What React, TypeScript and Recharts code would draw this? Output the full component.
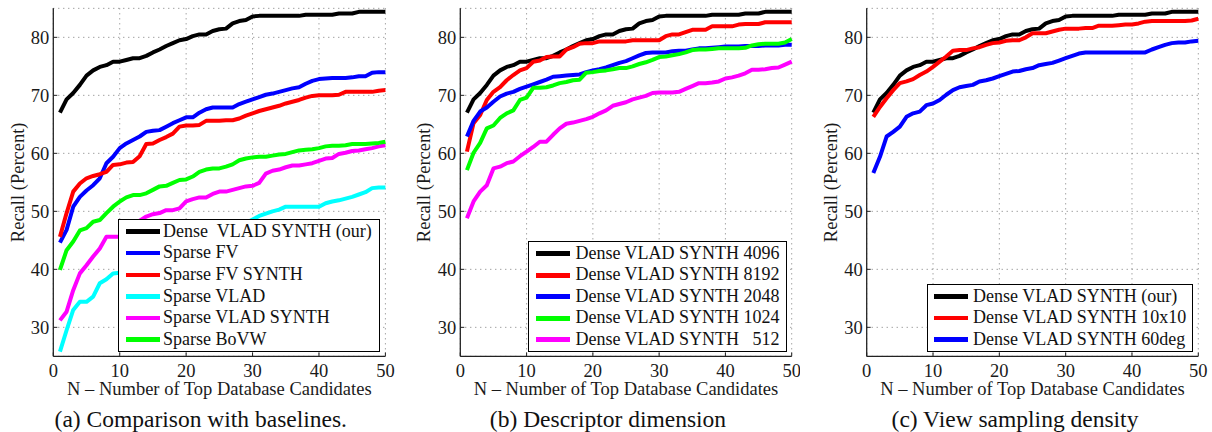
import React from 'react';
import { LineChart, Line, XAxis, YAxis, CartesianGrid, Legend } from 'recharts';

const FONT = "'Liberation Serif', 'Times New Roman', Times, serif";

// N = number of top database candidates
const candidates = [1, 2, 3, 4, 5, 6, 7, 8, 9, 10, 11, 12, 13, 14, 15, 16, 17, 18, 19, 20, 21, 22, 23, 24, 25, 26, 27, 28, 29, 30, 31, 32, 33, 34, 35, 36, 37, 38, 39, 40, 41, 42, 43, 44, 45, 46, 47, 48, 49, 50];
const xTicks = [0, 10, 20, 30, 40, 50];
const yTicks = [30, 40, 50, 60, 70, 80];

// Shared: Dense VLAD SYNTH (ours / 4096)
const denseVladSynth = [67.0, 69.3, 70.4, 71.8, 73.4, 74.3, 74.9, 75.2, 75.8, 75.8, 76.1, 76.4, 76.4, 76.8, 77.4, 77.9, 78.5, 79.0, 79.5, 79.7, 80.2, 80.5, 80.5, 81.1, 81.4, 81.5, 82.4, 82.8, 83.0, 83.6, 83.7, 83.7, 83.7, 83.7, 83.7, 83.7, 83.7, 83.9, 83.9, 83.9, 83.9, 83.9, 84.1, 84.1, 84.1, 84.4, 84.4, 84.4, 84.4, 84.4];

// (a) baselines
const sparseFV = [44.6, 46.8, 50.8, 52.5, 53.6, 54.5, 55.7, 58.3, 59.4, 60.9, 61.7, 62.3, 62.9, 63.7, 63.9, 64.0, 64.6, 65.2, 65.7, 66.2, 66.2, 67.0, 67.6, 67.9, 67.9, 67.9, 67.9, 68.5, 68.9, 69.3, 69.7, 70.1, 70.3, 70.6, 70.9, 71.2, 71.4, 72.0, 72.5, 72.8, 72.9, 73.0, 73.0, 73.0, 73.1, 73.3, 73.3, 73.9, 74.0, 74.0];
const sparseFVSynth = [45.6, 49.7, 53.4, 54.8, 55.7, 56.1, 56.4, 56.8, 58.0, 58.1, 58.4, 58.5, 59.5, 61.6, 61.7, 62.3, 62.8, 63.4, 64.6, 64.8, 64.8, 64.9, 65.6, 65.6, 65.6, 65.7, 65.7, 66.0, 66.5, 66.9, 67.3, 67.6, 67.9, 68.2, 68.6, 68.9, 69.2, 69.6, 69.9, 70.0, 70.0, 70.0, 70.1, 70.6, 70.6, 70.6, 70.6, 70.6, 70.8, 70.9];
const sparseVLAD = [25.8, 29.5, 33.0, 34.4, 34.4, 35.3, 37.6, 38.3, 39.3, 39.4, 40.0, 40.5, 41.1, 41.6, 42.0, 42.5, 43.0, 43.4, 43.8, 44.2, 44.6, 45.0, 45.4, 45.8, 46.3, 46.7, 47.1, 47.6, 48.0, 48.6, 49.2, 49.6, 50.0, 50.3, 50.8, 50.8, 50.8, 50.8, 50.8, 50.8, 51.4, 51.7, 51.9, 52.2, 52.5, 52.9, 53.3, 54.0, 54.1, 54.1];
const sparseVLADSynth = [31.2, 32.7, 36.4, 39.3, 40.7, 42.2, 43.6, 45.6, 45.6, 45.6, 46.4, 47.3, 48.4, 49.1, 49.5, 49.7, 50.2, 50.2, 50.5, 51.7, 52.1, 52.4, 52.4, 53.0, 53.4, 53.4, 53.7, 54.0, 54.3, 54.4, 54.9, 56.5, 57.0, 57.2, 57.6, 57.9, 57.9, 58.1, 58.3, 58.7, 59.1, 59.2, 59.9, 60.1, 60.4, 60.5, 60.7, 60.9, 61.2, 61.4];
const sparseBoVW = [39.9, 43.3, 44.8, 46.7, 47.1, 48.2, 48.5, 49.7, 50.8, 51.7, 52.4, 52.8, 52.8, 53.1, 53.7, 54.3, 54.4, 54.9, 55.4, 55.5, 56.0, 56.8, 57.2, 57.4, 57.4, 57.7, 58.1, 58.8, 59.1, 59.3, 59.4, 59.4, 59.6, 59.8, 59.9, 60.2, 60.5, 60.6, 60.7, 60.9, 61.2, 61.3, 61.3, 61.4, 61.6, 61.6, 61.6, 61.7, 61.8, 62.0];

// (b) descriptor dimension
const dim8192 = [60.3, 65.2, 66.6, 69.2, 70.6, 71.4, 72.6, 73.5, 74.3, 74.7, 75.8, 76.0, 76.6, 76.7, 76.7, 77.9, 78.3, 78.9, 79.0, 79.0, 79.3, 79.3, 79.3, 79.3, 79.3, 79.5, 79.5, 79.5, 79.5, 79.5, 80.2, 80.5, 80.5, 80.9, 81.3, 81.3, 81.3, 81.9, 81.9, 81.9, 81.9, 82.2, 82.3, 82.3, 82.3, 82.6, 82.6, 82.6, 82.6, 82.6];
const dim2048 = [62.9, 65.6, 67.2, 67.9, 68.9, 69.8, 70.3, 70.6, 71.1, 71.5, 71.9, 72.3, 72.7, 73.2, 73.3, 73.4, 73.5, 73.6, 74.0, 74.3, 74.5, 74.8, 75.2, 75.6, 75.9, 76.4, 76.9, 77.3, 77.4, 77.4, 77.4, 77.6, 77.7, 77.7, 77.9, 78.1, 78.1, 78.2, 78.3, 78.4, 78.4, 78.4, 78.5, 78.5, 78.5, 78.6, 78.6, 78.6, 78.7, 78.7];
const dim1024 = [57.1, 60.1, 61.8, 64.3, 64.8, 66.1, 66.9, 67.4, 69.2, 69.6, 71.3, 71.3, 71.4, 71.7, 72.1, 72.3, 72.6, 72.7, 73.9, 74.0, 74.2, 74.3, 74.5, 74.7, 74.7, 75.0, 75.4, 75.7, 76.1, 76.6, 76.7, 76.9, 77.1, 77.4, 77.8, 77.9, 77.9, 78.0, 78.1, 78.1, 78.1, 78.1, 78.2, 78.6, 78.8, 78.9, 78.9, 78.9, 79.1, 79.7];
const dim512 = [48.8, 51.7, 53.4, 54.5, 57.4, 57.7, 58.3, 58.6, 59.5, 60.3, 61.1, 62.0, 62.0, 63.2, 64.3, 65.1, 65.3, 65.6, 65.9, 66.3, 66.9, 67.4, 68.2, 68.5, 68.8, 69.3, 69.6, 69.9, 70.4, 70.5, 70.5, 70.5, 70.6, 71.1, 71.6, 72.1, 72.1, 72.2, 72.4, 72.9, 73.1, 73.4, 73.8, 74.4, 74.4, 74.5, 74.7, 74.8, 75.3, 75.8];

// (c) view sampling density
const view10x10 = [66.3, 68.0, 69.5, 70.9, 72.1, 72.4, 72.8, 73.5, 74.1, 74.9, 75.8, 76.7, 77.7, 77.8, 77.8, 78.1, 78.3, 78.7, 79.0, 79.1, 79.4, 79.5, 79.5, 80.0, 80.7, 80.7, 80.7, 81.0, 81.3, 81.5, 81.5, 81.5, 81.6, 81.6, 82.0, 82.0, 82.0, 82.1, 82.2, 82.2, 82.4, 82.7, 82.8, 82.8, 82.8, 82.8, 82.8, 82.8, 82.9, 83.2];
const view60deg = [56.6, 59.4, 62.9, 63.7, 64.6, 66.3, 66.9, 67.2, 68.3, 68.6, 69.2, 70.1, 70.9, 71.4, 71.6, 71.8, 72.4, 72.6, 72.9, 73.3, 73.7, 74.1, 74.2, 74.5, 74.7, 75.2, 75.4, 75.6, 76.0, 76.4, 76.8, 77.2, 77.4, 77.4, 77.4, 77.4, 77.4, 77.4, 77.4, 77.4, 77.4, 77.4, 77.9, 78.3, 78.7, 79.0, 79.1, 79.1, 79.3, 79.4];

const data = candidates.map((n, i) => ({
  n,
  dense: denseVladSynth[i],
  fv: sparseFV[i],
  fvSynth: sparseFVSynth[i],
  vlad: sparseVLAD[i],
  vladSynth: sparseVLADSynth[i],
  bovw: sparseBoVW[i],
  d8192: dim8192[i],
  d2048: dim2048[i],
  d1024: dim1024[i],
  d512: dim512[i],
  v10: view10x10[i],
  v60: view60deg[i],
}));

type Series = { key: string; name: string; color: string };

const seriesA: Series[] = [
  { key: 'dense', name: 'Dense  VLAD SYNTH (our)', color: '#000000' },
  { key: 'fv', name: 'Sparse FV', color: '#0000ff' },
  { key: 'fvSynth', name: 'Sparse FV SYNTH', color: '#ff0000' },
  { key: 'vlad', name: 'Sparse VLAD', color: '#00ffff' },
  { key: 'vladSynth', name: 'Sparse VLAD SYNTH', color: '#ff00ff' },
  { key: 'bovw', name: 'Sparse BoVW', color: '#00ff00' },
];
const seriesB: Series[] = [
  { key: 'dense', name: 'Dense VLAD SYNTH 4096', color: '#000000' },
  { key: 'd8192', name: 'Dense VLAD SYNTH 8192', color: '#ff0000' },
  { key: 'd2048', name: 'Dense VLAD SYNTH 2048', color: '#0000ff' },
  { key: 'd1024', name: 'Dense VLAD SYNTH 1024', color: '#00ff00' },
  { key: 'd512', name: 'Dense VLAD SYNTH   512', color: '#ff00ff' },
];
const seriesC: Series[] = [
  { key: 'dense', name: 'Dense VLAD SYNTH (our)', color: '#000000' },
  { key: 'v10', name: 'Dense VLAD SYNTH 10x10', color: '#ff0000' },
  { key: 'v60', name: 'Dense VLAD SYNTH 60deg', color: '#0000ff' },
];

type LegendCfg = { left: number; top: number; w: number; h: number; first: number; rowH: number; lineLeft: number; textLeft: number };

type PanelCfg = {
  left: number;
  width: number;
  yAxisWidth: number;
  marginRight: number;
  yLabelOffset: number;
  legend: LegendCfg;
  caption: string;
  captionCenter: number;
  series: Series[];
};

const panels: PanelCfg[] = [
  {
    left: 0, width: 400, yAxisWidth: 53.3, marginRight: 14.6, yLabelOffset: 17.5,
    legend: { left: 118.3, top: 219.3, w: 261.7, h: 132.4, first: 12.4, rowH: 21.66, lineLeft: 7.7, textLeft: 45 },
    caption: '(a) Comparison with baselines.', captionCenter: 200.8, series: seriesA,
  },
  {
    left: 400, width: 400, yAxisWidth: 60.3, marginRight: 8.3, yLabelOffset: 23.7,
    legend: { left: 128.3, top: 240.7, w: 258.4, h: 111, first: 13.3, rowH: 21.5, lineLeft: 8.4, textLeft: 47.4 },
    caption: '(b) Descriptor dimension', captionCenter: 208, series: seriesB,
  },
  {
    left: 800, width: 412, yAxisWidth: 66.7, marginRight: 13.7, yLabelOffset: 30,
    legend: { left: 126.7, top: 284, w: 266.6, h: 67.7, first: 12.7, rowH: 21.65, lineLeft: 7.6, textLeft: 46.6 },
    caption: '(c) View sampling density', captionCenter: 215, series: seriesC,
  },
];

const LegendBox = ({ cfg, series }: { cfg: LegendCfg; series: Series[] }) => (
  <div
    style={{
      position: 'relative', width: cfg.w, height: cfg.h, boxSizing: 'border-box',
      border: '1.3px solid #000', background: '#fff', fontFamily: FONT, fontSize: 18, color: '#111',
    }}
  >
    {series.map((s, i) => (
      <div key={s.key} style={{ position: 'absolute', left: 0, right: 0, top: cfg.first - 1.3 - 10.8 + i * cfg.rowH, height: 21.6 }}>
        <div style={{ position: 'absolute', left: cfg.lineLeft - 1.3, width: 34, top: 8.6, height: 4.6, background: s.color }} />
        <span style={{ position: 'absolute', left: cfg.textLeft - 1.3, top: 0, lineHeight: '21.6px', whiteSpace: 'pre' }}>{s.name}</span>
      </div>
    ))}
  </div>
);

const Panel = ({ cfg }: { cfg: PanelCfg }) => {
  const H = 432;
  return (
    <div style={{ position: 'absolute', left: cfg.left, top: 0, width: cfg.width, height: H }}>
      <LineChart
        width={cfg.width}
        height={H}
        data={data}
        margin={{ top: 8.33, right: cfg.marginRight, left: 0, bottom: 35.67 }}
      >
        <CartesianGrid stroke="#7a7a7a" strokeWidth={1} strokeDasharray="1 4" />
        <XAxis
          dataKey="n"
          type="number"
          domain={[0, 50]}
          ticks={xTicks}
          interval={0}
          height={40}
          tickLine={{ stroke: '#222', strokeWidth: 1 }}
          tickSize={-4}
          tickMargin={12}
          axisLine={{ stroke: '#222', strokeWidth: 1.3 }}
          tick={{ fill: '#1a1a1a', fontSize: 18.5, fontFamily: FONT }}
          label={{
            value: 'N – Number of Top Database Candidates',
            position: 'insideBottom',
            offset: 1,
            style: { fill: '#1a1a1a', fontSize: 18.5, fontFamily: FONT },
          }}
        />
        <YAxis
          type="number"
          domain={[25, 85]}
          ticks={yTicks}
          interval={0}
          allowDataOverflow
          width={cfg.yAxisWidth}
          tickLine={{ stroke: '#222', strokeWidth: 1 }}
          tickSize={-4}
          tickMargin={8}
          axisLine={{ stroke: '#222', strokeWidth: 1.3 }}
          tick={{ fill: '#1a1a1a', fontSize: 18.5, fontFamily: FONT }}
          label={{
            value: 'Recall (Percent)',
            angle: -90,
            position: 'insideLeft',
            offset: cfg.yLabelOffset,
            style: { textAnchor: 'middle', fill: '#1a1a1a', fontSize: 18.5, fontFamily: FONT },
          }}
        />
        {cfg.series.map((s) => (
          <Line
            key={s.key}
            type="linear"
            dataKey={s.key}
            name={s.name}
            stroke={s.color}
            strokeWidth={4}
            strokeLinejoin="round"
            dot={false}
            activeDot={false}
            isAnimationActive={false}
          />
        ))}
        <Legend
          layout="vertical"
          align="center"
          verticalAlign="middle"
          wrapperStyle={{ left: cfg.legend.left, top: cfg.legend.top, width: cfg.legend.w, height: cfg.legend.h, margin: 0 }}
          content={() => <LegendBox cfg={cfg.legend} series={cfg.series} />}
        />
      </LineChart>
      <div
        style={{
          position: 'absolute', left: cfg.captionCenter - 200, width: 400, top: 405.6, textAlign: 'center',
          fontFamily: FONT, fontSize: 23.5, lineHeight: '26px', color: '#111', whiteSpace: 'nowrap',
        }}
      >
        {cfg.caption}
      </div>
    </div>
  );
};

export default function App() {
  return (
    <div style={{ position: 'absolute', left: 0, top: 0, width: 1212, height: 432, background: '#fff', overflow: 'hidden' }}>
      {panels.map((p) => (
        <Panel key={p.caption} cfg={p} />
      ))}
    </div>
  );
}
